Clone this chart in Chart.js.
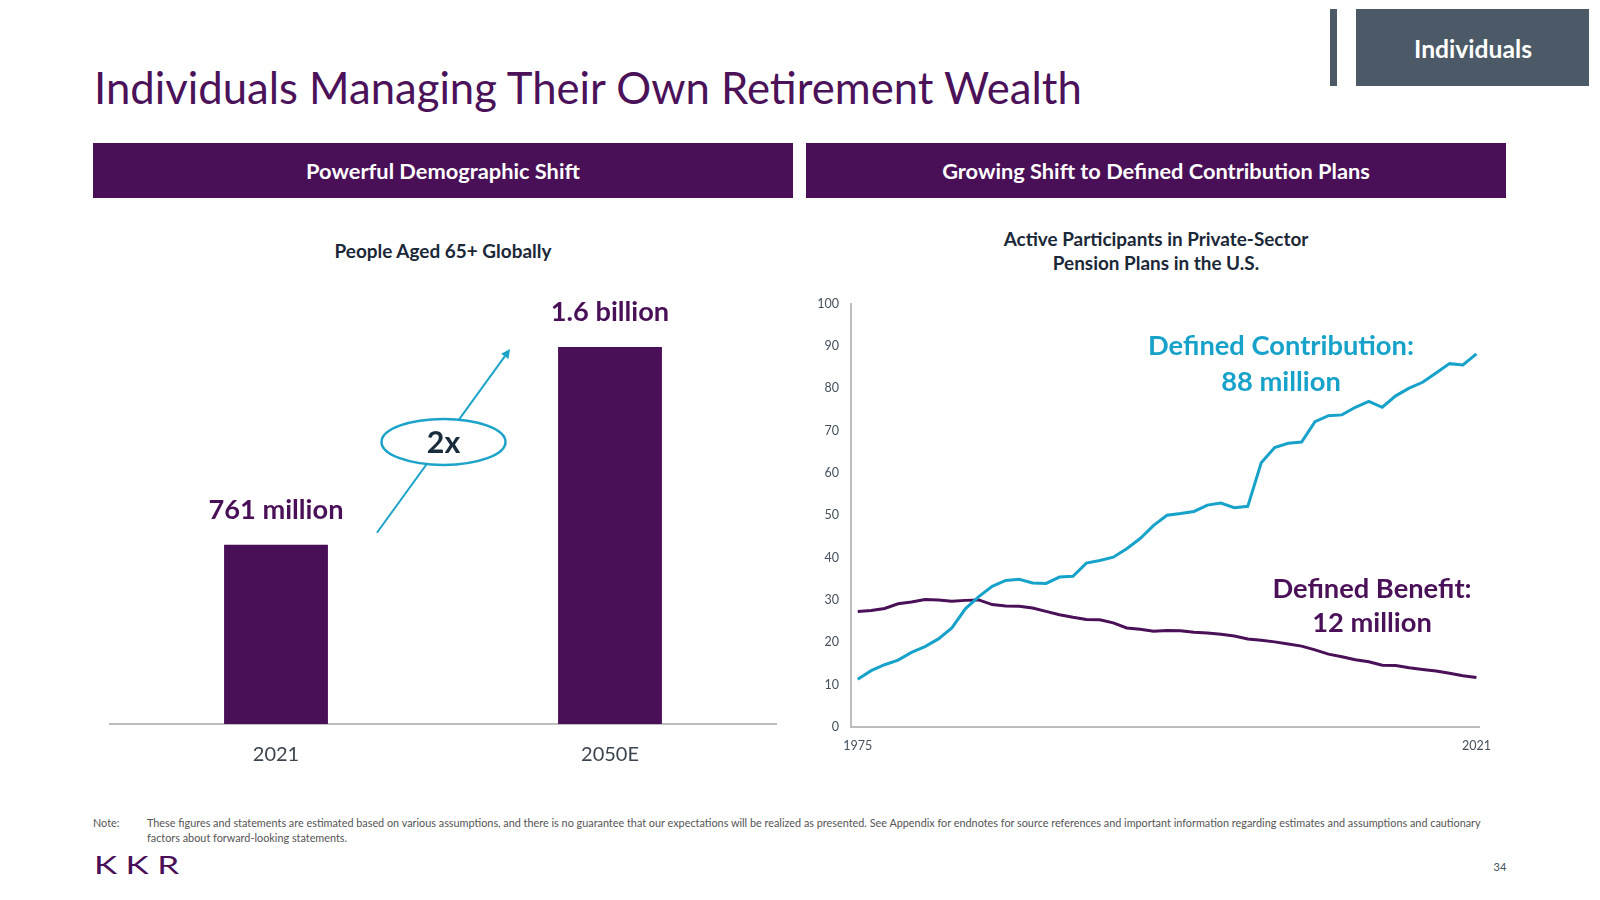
<!DOCTYPE html>
<html><head><meta charset="utf-8">
<script src="https://cdn.jsdelivr.net/npm/chart.js@4.4.1/dist/chart.umd.min.js"></script>
<style>
html,body{margin:0;padding:0;background:#fff;}
body{width:1600px;height:900px;position:relative;overflow:hidden;font-family:Lato,"Open Sans",sans-serif;}
.t{position:absolute;white-space:nowrap;line-height:1;}
.c{transform:translate(-50%,-50%);}
.l{transform:translate(0,-50%);}
.box{position:absolute;}
canvas{position:absolute;}
</style></head><body>
<div class="t l fit" data-w="988" style="left:94px;top:88px;color:#4B1259;">Individuals Managing Their Own Retirement Wealth</div>
<div class="box" style="left:1330px;top:9px;width:7px;height:77px;background:#4B5A66"></div>
<div class="box" style="left:1356px;top:9px;width:233px;height:77px;background:#4B5A66"></div>
<div class="t c fit" data-w="118" style="left:1473px;top:49px;color:#fff;font-weight:700">Individuals</div>

<div class="box" style="left:93px;top:143px;width:700px;height:55px;background:#4A1057"></div>
<div class="box" style="left:806px;top:143px;width:700px;height:55px;background:#4A1057"></div>
<div class="t c fit" data-w="274" style="left:443px;top:171px;color:#fff;font-weight:700">Powerful Demographic Shift</div>
<div class="t c fit" data-w="428" style="left:1156px;top:171px;color:#fff;font-weight:700">Growing Shift to Defined Contribution Plans</div>

<div class="t c fit" data-w="217" style="left:443px;top:251px;color:#1B2838;font-weight:700">People Aged 65+ Globally</div>
<div class="t c fit" data-w="305" style="left:1156px;top:239px;color:#1B2838;font-weight:700">Active Participants in Private-Sector</div>
<div class="t c" id="sub2" style="left:1156px;top:263px;color:#1B2838;font-weight:700">Pension Plans in the U.S.</div>

<canvas id="bar" width="668" height="490" style="left:109px;top:290px"></canvas>
<canvas id="line" width="722" height="486" style="left:780px;top:284px"></canvas>

<div class="t c fit" id="dc1" data-w="266" style="left:1281px;top:345px;color:#17A2CA;font-weight:700">Defined Contribution:</div>
<div class="t c ann" style="left:1281px;top:381px;color:#17A2CA;font-weight:700">88 million</div>
<div class="t c ann" style="left:1372px;top:588px;color:#4A1058;font-weight:700">Defined Benefit:</div>
<div class="t c ann" style="left:1372px;top:622px;color:#4A1058;font-weight:700">12 million</div>

<div class="t l note" style="left:93px;top:823px;color:#555">Note:</div>
<div class="t l note fit" id="note1" data-w="1335" style="left:147px;top:823px;color:#555">These figures and statements are estimated based on various assumptions, and there is no guarantee that our expectations will be realized as presented. See Appendix for endnotes for source references and important information regarding estimates and assumptions and cautionary</div>
<div class="t l note" style="left:147px;top:838px;color:#555">factors about forward-looking statements.</div>
<div class="t" style="left:94px;top:852px;color:#4A1057;font-size:25px;font-weight:400;letter-spacing:6px;transform:scaleX(1.4);transform-origin:0 0">KKR</div>
<div class="t c" style="left:1500px;top:866px;color:#44505C;font-size:11px">34</div>

<script>
// ---- Data ----
const barCategories = ["2021", "2050E"];
const barValues = [761, 1600]; // people aged 65+ globally, millions
const barLabels = ["761 million", "1.6 billion"];

const years = [1975,1976,1977,1978,1979,1980,1981,1982,1983,1984,1985,1986,1987,1988,1989,1990,
  1991,1992,1993,1994,1995,1996,1997,1998,1999,2000,2001,2002,2003,2004,2005,2006,2007,2008,2009,
  2010,2011,2012,2013,2014,2015,2016,2017,2018,2019,2020,2021];
const definedContribution = [11.3,13.3,14.7,15.8,17.6,19.0,20.8,23.4,27.9,30.8,33.2,34.6,34.9,34.0,33.9,35.4,
  35.6,38.7,39.3,40.1,42.1,44.5,47.6,50.0,50.4,50.9,52.4,52.9,51.8,52.1,62.4,66.0,67.0,67.3,72.1,
  73.5,73.7,75.5,76.9,75.5,78.2,80.0,81.4,83.6,85.8,85.5,88.1];
const definedBenefit = [27.3,27.5,28.0,29.1,29.5,30.1,30.0,29.7,29.9,30.0,28.9,28.6,28.5,28.1,27.3,26.5,
  25.9,25.4,25.3,24.6,23.4,23.1,22.6,22.8,22.7,22.4,22.2,21.9,21.5,20.8,20.5,20.1,19.6,19.1,18.2,
  17.2,16.6,15.9,15.4,14.6,14.5,14.0,13.6,13.2,12.7,12.1,11.7];
const lineTickYears = [1975, 2021];

// ---- text fitting helpers ----
const FONT = 'Lato, "Open Sans", sans-serif';
function fitDom(el, w){ el.style.fontSize='100px'; const m=el.getBoundingClientRect().width; const s=100*w/m; el.style.fontSize=s+'px'; return s; }
document.querySelectorAll('.fit').forEach(el=>fitDom(el, +el.dataset.w));
const subSize = parseFloat(document.querySelector('[data-w="305"]').style.fontSize);
document.getElementById('sub2').style.fontSize = subSize+'px';
const annSize = parseFloat(document.getElementById('dc1').style.fontSize);
document.querySelectorAll('.ann').forEach(e=>e.style.fontSize=annSize+'px');
const noteSize = parseFloat(document.getElementById('note1').style.fontSize);
document.querySelectorAll('.note').forEach(e=>e.style.fontSize=noteSize+'px');

function fitCanvas(ctx, text, weight, w){ ctx.save(); ctx.font = weight+' 100px '+FONT; const m=ctx.measureText(text).width; ctx.restore(); return 100*w/m; }

const PURPLE = '#4A1057', CYAN = '#17A2CA';

const barLabelPlugin = { id:'barLabels', afterDatasetsDraw(chart){
  const ctx = chart.ctx; const bars = chart.getDatasetMeta(0).data;
  const size = fitCanvas(ctx, barLabels[0], '700', 135);
  ctx.save(); ctx.font = '700 '+size+'px '+FONT; ctx.fillStyle = PURPLE; ctx.textAlign='center'; ctx.textBaseline='middle';
  bars.forEach((b,i)=> ctx.fillText(barLabels[i], b.x, b.y-35));
  ctx.restore();
}};

const growthPlugin = { id:'growth', afterDatasetsDraw(chart){
  const ctx = chart.ctx; const m = chart.getDatasetMeta(0).data; const b0=m[0], b1=m[1];
  const x0 = b0.x + b0.width/2 + 49, y0 = b0.y - 12;
  const x1 = b1.x - b1.width/2 - 48, y1 = b1.y + 2;
  ctx.save();
  ctx.strokeStyle = '#1BA3C9'; ctx.fillStyle = '#1BA3C9'; ctx.lineWidth = 2;
  const ang = Math.atan2(y1-y0, x1-x0);
  const hx = x1 - 9*Math.cos(ang), hy = y1 - 9*Math.sin(ang);
  ctx.beginPath(); ctx.moveTo(x0,y0); ctx.lineTo(hx,hy); ctx.stroke();
  ctx.beginPath(); ctx.moveTo(x1,y1);
  ctx.lineTo(hx + 4.5*Math.sin(ang), hy - 4.5*Math.cos(ang));
  ctx.lineTo(hx - 4.5*Math.sin(ang), hy + 4.5*Math.cos(ang));
  ctx.closePath(); ctx.fill();
  const cx = (x0+x1)/2, cy = (y0+y1)/2 + 1;
  ctx.beginPath(); ctx.ellipse(cx, cy, 62, 23, 0, 0, Math.PI*2);
  ctx.fillStyle = '#fff'; ctx.fill(); ctx.lineWidth = 2.5; ctx.stroke();
  const s = fitCanvas(ctx, '2x', '700', 33.5);
  ctx.font = '700 '+s+'px '+FONT; ctx.fillStyle = '#1A2B3C'; ctx.textAlign='center'; ctx.textBaseline='middle';
  ctx.fillText('2x', cx, cy+1);
  ctx.restore();
}};

new Chart(document.getElementById('bar'), {
  type: 'bar',
  data: { labels: barCategories, datasets: [{ data: barValues, backgroundColor: PURPLE, borderWidth: 0, categoryPercentage: 1, barPercentage: 0.311 }] },
  options: {
    responsive: false, animation: false, events: [],
    layout: { padding: { top: 10, left: 0, right: 0, bottom: 0 } },
    plugins: { legend: { display: false }, tooltip: { enabled: false } },
    scales: {
      y: { display: false, min: 0, max: 1800 },
      x: { grid: { display: false, drawTicks: false }, border: { display: true, color: '#BDBDBD', width: 2 },
           ticks: { color: '#3C4650', font: { family: FONT, size: 20 }, padding: 19 },
           afterFit(s){ s.height = 56; } }
    }
  },
  plugins: [barLabelPlugin, growthPlugin]
});

new Chart(document.getElementById('line'), {
  type: 'line',
  data: { datasets: [
    { label: 'Defined Contribution', data: years.map((y,i)=>({x:y, y:definedContribution[i]})), borderColor: CYAN, borderWidth: 3, pointRadius: 0, tension: 0, fill: false },
    { label: 'Defined Benefit', data: years.map((y,i)=>({x:y, y:definedBenefit[i]})), borderColor: '#4A1058', borderWidth: 3, pointRadius: 0, tension: 0, fill: false }
  ]},
  options: {
    responsive: false, animation: false, events: [],
    layout: { padding: { top: 0, right: 21, left: 0, bottom: 0 } },
    plugins: { legend: { display: false }, tooltip: { enabled: false } },
    scales: {
      x: { type: 'linear', min: 1974.5, max: 2021.2,
           grid: { display: false, drawTicks: false }, border: { color: '#BDBDBD', width: 2 },
           ticks: { color: '#44505C', font: { family: FONT, size: 12.5 }, padding: 11, autoSkip: false, maxRotation: 0, callback: v => String(v) },
           afterBuildTicks(s){ s.ticks = lineTickYears.map(v => ({ value: v })); },
           afterFit(s){ s.height = 43; } },
      y: { min: 0, max: 100,
           grid: { display: false, drawTicks: false }, border: { color: '#BDBDBD', width: 2 },
           ticks: { stepSize: 10, color: '#44505C', font: { family: FONT, size: 12.5 }, padding: 12 },
           afterFit(s){ s.width = 71; } }
    }
  }
});
</script>
</body></html>
